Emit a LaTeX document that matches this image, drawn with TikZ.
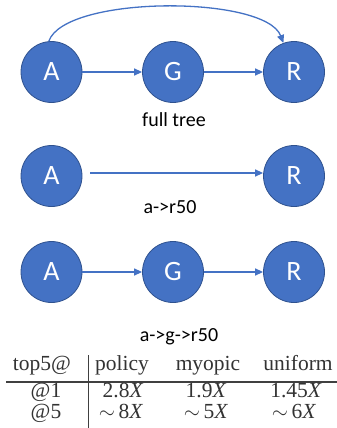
\documentclass[tikz,border=0pt]{standalone}
\usepackage{fontspec}
\setmainfont{Liberation Serif}
\newfontfamily\calfont{Carlito}
\usetikzlibrary{arrows.meta}
\definecolor{nodeblue}{HTML}{4472C4}
\definecolor{nodeedge}{HTML}{2F528F}
\tikzset{
  vnode/.style={circle, fill=nodeblue, draw=nodeedge, line width=0.8pt, minimum size=61pt, inner sep=0pt, text=white, font=\calfont\fontsize{28}{28}\selectfont},
  conn/.style={draw=nodeblue, line width=1.3pt, -{Triangle[length=8pt,width=7pt]}},
  lbl/.style={font=\calfont\fontsize{20}{20}\selectfont, anchor=base},
  cell/.style={font=\fontsize{21.5}{21.5}\selectfont, anchor=base, text=black!80, inner sep=0pt, text height=14pt, text depth=4pt},
}
\begin{document}
\begin{tikzpicture}[x=1pt,y=-1pt]
\useasboundingbox (0,0) rectangle (337,428);
% row 1
\node[vnode] (a1) at (51.5,72) {A};
\node[vnode] (g1) at (173,72) {G};
\node[vnode] (r1) at (294,72) {R};
\draw[conn] (a1) -- (g1);
\draw[conn] (g1) -- (r1);
\draw[conn] (a1.95) .. controls (65,-5) and (265,-5) .. (r1.110);
\node[lbl] (l1) at (174,126) {full tree};
% row 2
\node[vnode] (a2) at (51.5,176) {A};
\node[vnode] (r2) at (294,176) {R};
\coordinate (s2) at (90,173);
\draw[conn] (s2) -- (r2.west |- s2);
\node[lbl] (l2) at (170,213) {a->r50};
% row 3
\node[vnode] (a3) at (51.5,272) {A};
\node[vnode] (g3) at (173,272) {G};
\node[vnode] (r3) at (294,272) {R};
\draw[conn] (a3) -- (g3);
\draw[conn] (g3) -- (r3);
\node[lbl] (l3) at (179,341) {a->g->r50};
% table
\coordinate (vt) at (88,355);
\coordinate (vb) at (88,428);
\coordinate (hl) at (6,382);
\coordinate (hr) at (337,382);
\draw[line width=1pt, black!75] (vt) -- (vb);
\draw[line width=1.5pt, black!75] (hl) -- (hr);
\node[cell] (h1) at (42,370) {top5@};
\node[cell] (h2) at (122,370) {policy};
\node[cell] (h3) at (208,370) {myopic};
\node[cell] (h4) at (298,370) {uniform};
\node[cell] (c11) at (46,397) {@1};
\node[cell] (c12) at (123,397) {2.8\textit{X}};
\node[cell] (c13) at (206,397) {1.9\textit{X}};
\node[cell] (c14) at (296,397) {1.45\textit{X}};
\node[cell] (c21) at (46,418) {@5};
\node[cell] (c22) at (121,418) {$\sim$\,8\textit{X}};
\node[cell] (c23) at (206,418) {$\sim$\,5\textit{X}};
\node[cell] (c24) at (294,418) {$\sim$\,6\textit{X}};
\end{tikzpicture}
\end{document}
